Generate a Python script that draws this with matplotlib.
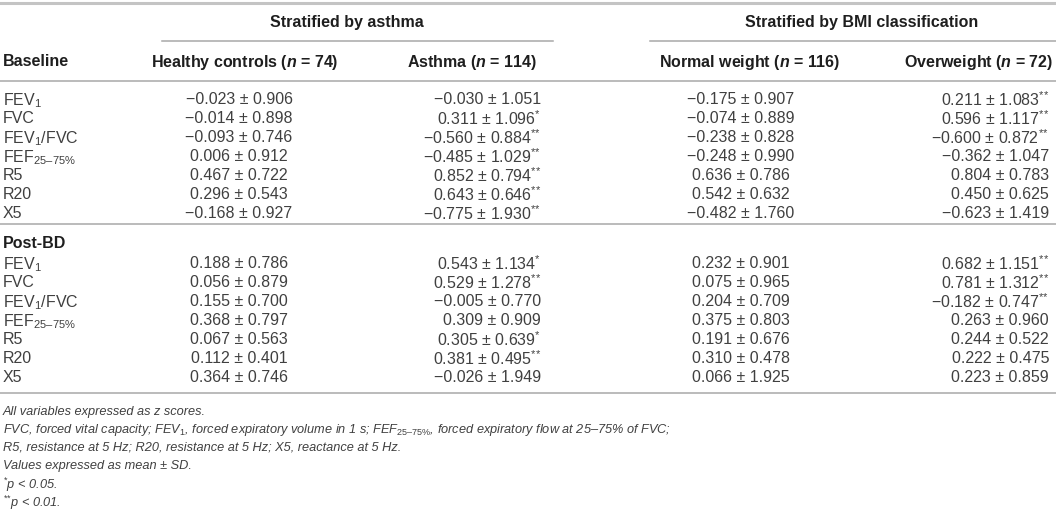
import matplotlib.pyplot as plt

plt.rcParams['font.family'] = ['Liberation Sans', 'DejaVu Sans']
plt.rcParams['mathtext.fontset'] = 'custom'
plt.rcParams['mathtext.rm'] = 'Liberation Sans'
plt.rcParams['mathtext.it'] = 'Liberation Sans:italic'
plt.rcParams['mathtext.bf'] = 'Liberation Sans:bold'
plt.rcParams['mathtext.bfit'] = 'Liberation Sans:bold:italic'

# table content
group_titles = ['Stratified by asthma', 'Stratified by BMI classification']
col_headers = [r'Healthy controls ($\mathbfit{n}$ = 74)', r'Asthma ($\mathbfit{n}$ = 114)',
               r'Normal weight ($\mathbfit{n}$ = 116)', r'Overweight ($\mathbfit{n}$ = 72)']
sections = ['Baseline', 'Post-BD']
row_labels = ['FEV$_{1}$', 'FVC', 'FEV$_{1}$/FVC', 'FEF$_{25\u201375\\%}$', 'R5', 'R20', 'X5']

# mean, sd, significance stars per column (healthy, asthma, normal, overweight)
base_mean = [
    [-0.023, -0.014, -0.093, 0.006, 0.467, 0.296, -0.168],
    [-0.030, 0.311, -0.560, -0.485, 0.852, 0.643, -0.775],
    [-0.175, -0.074, -0.238, -0.248, 0.636, 0.542, -0.482],
    [0.211, 0.596, -0.600, -0.362, 0.804, 0.450, -0.623],
]
base_sd = [
    [0.906, 0.898, 0.746, 0.912, 0.722, 0.543, 0.927],
    [1.051, 1.096, 0.884, 1.029, 0.794, 0.646, 1.930],
    [0.907, 0.889, 0.828, 0.990, 0.786, 0.632, 1.760],
    [1.083, 1.117, 0.872, 1.047, 0.783, 0.625, 1.419],
]
base_stars = [
    [0, 0, 0, 0, 0, 0, 0],
    [0, 1, 2, 2, 2, 2, 2],
    [0, 0, 0, 0, 0, 0, 0],
    [2, 2, 2, 0, 0, 0, 0],
]
post_mean = [
    [0.188, 0.056, 0.155, 0.368, 0.067, 0.112, 0.364],
    [0.543, 0.529, -0.005, 0.309, 0.305, 0.381, -0.026],
    [0.232, 0.075, 0.204, 0.375, 0.191, 0.310, 0.066],
    [0.682, 0.781, -0.182, 0.263, 0.244, 0.222, 0.223],
]
post_sd = [
    [0.786, 0.879, 0.700, 0.797, 0.563, 0.401, 0.746],
    [1.134, 1.278, 0.770, 0.909, 0.639, 0.495, 1.949],
    [0.901, 0.965, 0.709, 0.803, 0.676, 0.478, 1.925],
    [1.151, 1.312, 0.747, 0.960, 0.522, 0.475, 0.859],
]
post_stars = [
    [0, 0, 0, 0, 0, 0, 0],
    [1, 2, 0, 0, 1, 2, 0],
    [0, 0, 0, 0, 0, 0, 0],
    [2, 2, 2, 0, 0, 0, 0],
]

footnotes = [
    'All variables expressed as z scores.',
    'FVC, forced vital capacity; FEV$_{\\mathit{1}}$, forced expiratory volume in 1 s; '
    'FEF$_{\\mathit{25\u201375\\%}}$, forced expiratory flow at 25\u201375% of FVC;',
    'R5, resistance at 5 Hz; R20, resistance at 5 Hz; X5, reactance at 5 Hz.',
    'Values expressed as mean \u00b1 SD.',
    '$^{*}$p < 0.05.',
    '$^{{*}{*}}$p < 0.01.',
]

TEXT = '#404040'
HEAD = '#1e1e1e'
RULE = '#a8a8a8'
FS = 11.5


def fmt(m, s, n):
    txt = f'{m:.3f} \u00b1 {s:.3f}'.replace('-', '\u2212')
    if n:
        txt += '$^{' + '{*}' * n + '}$'
    return txt


fig = plt.figure(figsize=(10.56, 5.13), dpi=100)
ax = fig.add_axes([0, 0, 1, 1])
ax.set_xlim(0, 1056)
ax.set_ylim(513, 0)
ax.axis('off')

# rules
ax.plot([0, 1056], [3, 3], color='#c4c4c4', lw=2.2)
ax.plot([162, 553], [41, 41], color=RULE, lw=1.1)
ax.plot([650, 1056], [41, 41], color=RULE, lw=1.1)
for yy in (81, 224, 393):
    ax.plot([0, 1056], [yy, yy], color=RULE, lw=1.1)

# headers
for title, cx in zip(group_titles, (347, 862)):
    ax.text(cx, 23, title, ha='center', va='center', fontsize=FS, fontweight='bold', color=HEAD)

head_x = [245, 537, 750, 1053]
head_ha = ['center', 'right', 'center', 'right']
ax.text(3, 62, sections[0], ha='left', va='center', fontsize=FS, fontweight='bold', color=HEAD)
for h, hx, ha in zip(col_headers, head_x, head_ha):
    ax.text(hx, 62, h, ha=ha, va='center', fontsize=FS, fontweight='bold', color=HEAD)

ax.text(3, 243, sections[1], ha='left', va='center', fontsize=FS, fontweight='bold', color=HEAD)

# body
val_x = [239, 541, 741, 1049]
val_ha = ['center', 'right', 'center', 'right']
row_step = 19
for y0, means, sds, stars in ((98, base_mean, base_sd, base_stars),
                              (262, post_mean, post_sd, post_stars)):
    for i, lab in enumerate(row_labels):
        y = y0 + i * row_step
        ax.text(3, y, lab, ha='left', va='center_baseline', fontsize=FS, color=TEXT)
        for c in range(4):
            ax.text(val_x[c], y, fmt(means[c][i], sds[c][i], stars[c][i]),
                    ha=val_ha[c], va='center_baseline', fontsize=FS, color=TEXT)

# footnotes
for k, note in enumerate(footnotes):
    ax.text(3, 410 + k * 18, note, ha='left', va='center_baseline', fontsize=9.2,
            fontstyle='italic', color=TEXT)

fig.savefig('out.png', dpi=100)
